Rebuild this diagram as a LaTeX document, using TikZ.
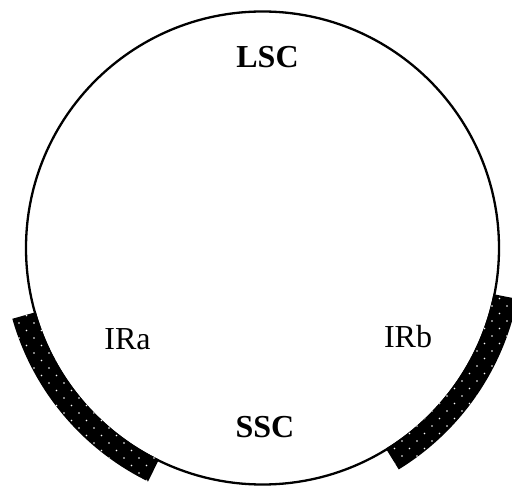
\documentclass[tikz,border=0pt]{standalone}
\usepackage{fontspec}
\setmainfont{Liberation Serif}
\begin{document}
\begin{tikzpicture}[x=1pt,y=1pt,
  ring/.style={line width=2.3pt},
  lbl/.style={font=\fontsize{32}{32}\selectfont, anchor=base, inner sep=0pt},
  blbl/.style={font=\fontsize{32}{32}\selectfont\bfseries, anchor=base, inner sep=0pt},
  dot/.style={fill=white}]
\useasboundingbox (0,0) rectangle (512,488);
\coordinate (C) at (262.5,240);
\draw[ring] (C) circle[radius=236.5];
\def\ri{235.5}
\def\ro{260}
% left band (IRa)
\begin{scope}
  \path[clip] ([shift={(195.8:\ri)}]C) arc[start angle=195.8,end angle=243.9,radius=\ri]
    -- ([shift={(243.9:\ro)}]C) arc[start angle=243.9,end angle=195.8,radius=\ro] -- cycle;
  \fill[black] (0,0) rectangle (512,488);
  \foreach \r in {0,...,27} {
    \foreach \c in {0,...,11} {
      \fill[dot] ({4+\c*15+mod(\r,2)*7.5},{\r*7.5}) circle[radius=0.85];
    }
  }
\end{scope}
% right band (IRb)
\begin{scope}
  \path[clip] ([shift={(-58.4:\ri)}]C) arc[start angle=-58.4,end angle=-11.3,radius=\ri]
    -- ([shift={(-11.3:\ro)}]C) arc[start angle=-11.3,end angle=-58.4,radius=\ro] -- cycle;
  \fill[black] (360,0) rectangle (530,230);
  \foreach \r in {0,...,29} {
    \foreach \c in {0,...,10} {
      \fill[dot] ({372+\c*15+mod(\r,2)*7.5},{\r*7.5+2}) circle[radius=0.85];
    }
  }
\end{scope}
\node[blbl] (lsc) at (267.5,420) {LSC};
\node[lbl] (ira) at (127.5,138) {IRa};
\node[lbl] (irb) at (408,140) {IRb};
\node[blbl] (ssc) at (265,50) {SSC};
\end{tikzpicture}
\end{document}
